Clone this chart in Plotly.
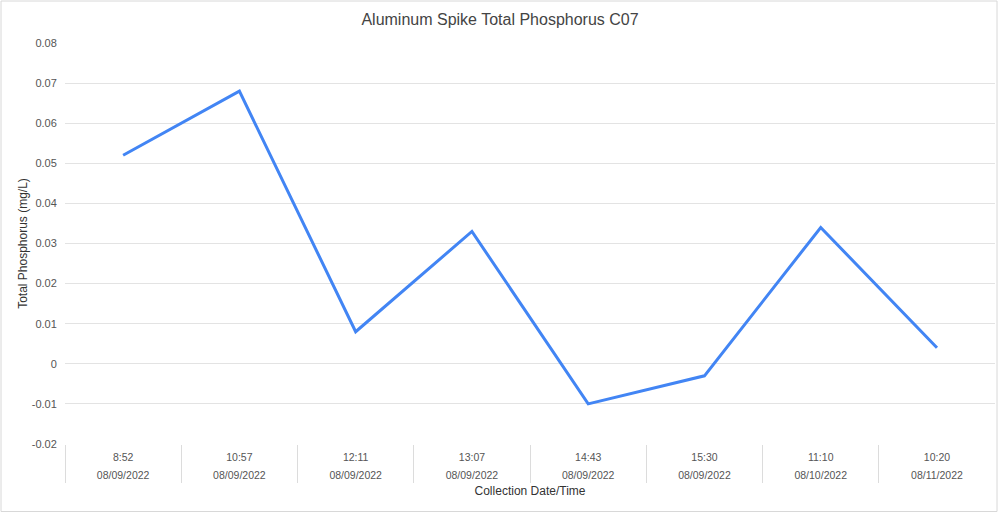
import plotly.graph_objects as go

times = ["8:52", "10:57", "12:11", "13:07", "14:43", "15:30", "11:10", "10:20"]
dates = ["08/09/2022", "08/09/2022", "08/09/2022", "08/09/2022", "08/09/2022",
         "08/09/2022", "08/10/2022", "08/11/2022"]
phosphorus = [0.052, 0.068, 0.008, 0.033, -0.010, -0.003, 0.034, 0.004]
y_ticks = [-0.02, -0.01, 0, 0.01, 0.02, 0.03, 0.04, 0.05, 0.06, 0.07, 0.08]
y_ticktext = ["-0.02", "-0.01", "0", "0.01", "0.02", "0.03", "0.04", "0.05", "0.06", "0.07", "0.08"]

idx = list(range(len(times)))
FONT = "Liberation Sans, Arial, sans-serif"
GRID = "#e3e3e3"
TXT = "#555555"

fig = go.Figure()
fig.add_trace(go.Scatter(x=idx, y=phosphorus, mode="lines",
                         line=dict(color="#4285F4", width=3), showlegend=False))
# invisible trace on second x axis so its ticks render
fig.add_trace(go.Scatter(x=idx, y=phosphorus, xaxis="x2", mode="lines",
                         line=dict(color="rgba(0,0,0,0)", width=0), showlegend=False,
                         hoverinfo="skip"))

fig.update_layout(
    width=1000, height=513,
    margin=dict(l=65, r=5, t=43, b=69, autoexpand=False),
    paper_bgcolor="white", plot_bgcolor="white",
    font=dict(family=FONT, size=11, color=TXT),
    title=dict(text="Aluminum Spike Total Phosphorus C07", x=0.5, xanchor="center",
               y=0.963, yanchor="middle", font=dict(size=16, color="#444444")),
    xaxis=dict(
        range=[-0.5, 7.499], tickmode="array", tickvals=idx, ticktext=times,
        showgrid=False, zeroline=False, showline=False, automargin=False,
        ticks="outside", ticklen=3, tickcolor="rgba(0,0,0,0)",
        tickfont=dict(size=10.5, color=TXT),
        minor=dict(ticks="outside", ticklen=38, tickcolor="#dcdcdc", tickwidth=1,
                   tick0=-0.5, dtick=1, showgrid=False),
        title=dict(text="Collection Date/Time", font=dict(size=12, color="#333333"),
                   standoff=25),
    ),
    xaxis2=dict(
        overlaying="x", matches="x", anchor="y", side="bottom", automargin=False,
        tickmode="array", tickvals=idx, ticktext=dates,
        showgrid=False, zeroline=False, showline=False,
        ticks="outside", ticklen=21, tickcolor="rgba(0,0,0,0)",
        tickfont=dict(size=10.5, color=TXT),
    ),
    yaxis=dict(
        range=[-0.02, 0.08], tickmode="array", tickvals=y_ticks, ticktext=y_ticktext,
        showgrid=True, gridcolor=GRID, gridwidth=1, zeroline=False, showline=False,
        automargin=False,
        ticks="outside", ticklen=5, tickcolor="rgba(0,0,0,0)",
        tickfont=dict(size=11, color=TXT),
        title=dict(text="Total Phosphorus (mg/L)", font=dict(size=12, color="#333333"),
                   standoff=1),
    ),
    shapes=[dict(type="rect", xref="paper", yref="paper",
                 x0=-64/930, x1=932/930, y0=-67.5/401, y1=(401+42)/401,
                 line=dict(color="#d8d8d8", width=1), fillcolor="rgba(0,0,0,0)",
                 layer="below")],
)

fig.write_html("out.html", config={"displayModeBar": False},
               post_script="document.body.style.margin='0';")
